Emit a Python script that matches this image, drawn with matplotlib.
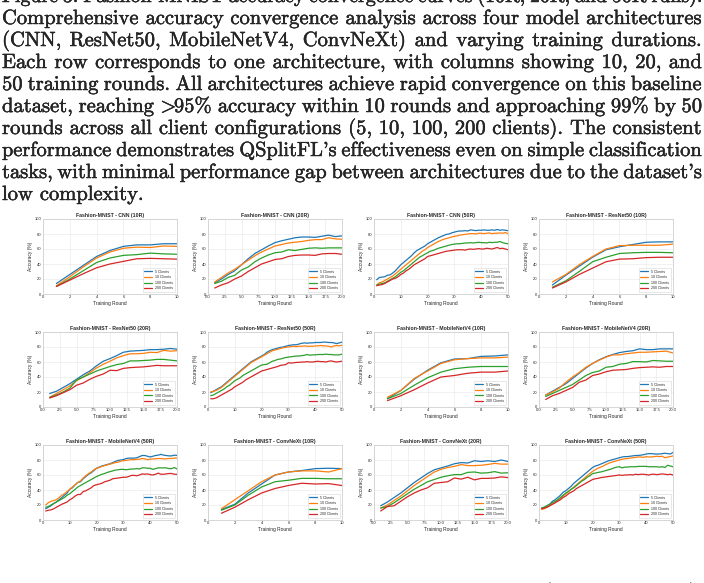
import numpy as np
import matplotlib
matplotlib.use('Agg')
from matplotlib import pyplot as plt
from matplotlib import patheffects

plt.style.use('seaborn-v0_8-whitegrid')
plt.rcParams['mathtext.fontset'] = 'cm'

clients = ['5 Clients', '10 Clients', '100 Clients', '200 Clients']
colors = ['#1f77b4', '#ff7f0e', '#2ca02c', '#d62728']

# ---- CNN ----
cnn10_5 = [14, 26, 38, 50, 58, 63.5, 65.5, 65.5, 67, 67]
cnn10_10 = [11, 23, 36, 48, 56, 61, 62.5, 62, 64, 63.5]
cnn10_100 = [10, 20, 31, 42, 48, 51.5, 52.5, 54.5, 53.5, 53]
cnn10_200 = [10, 18.5, 27, 35, 40, 43.5, 47, 47.5, 47, 46.5]

cnn20_5 = [15, 20, 26, 31, 39, 47, 54, 59, 64, 68.5, 71, 73, 75, 76, 76, 75.5, 77, 78.5, 76.5, 77.5]
cnn20_10 = [16, 22, 28, 33, 39, 45, 51, 56, 60, 64, 66, 68, 69, 70, 71.5, 72.5, 72.5, 75, 73.5, 73]
cnn20_100 = [14, 17, 22, 25, 32, 36, 43, 48, 52, 55, 56, 59, 58, 59.5, 61, 61.5, 61, 61.5, 61.5, 61.5]
cnn20_200 = [8, 12, 15, 20, 24, 30, 35, 40, 43, 46, 47, 50, 51.5, 52, 52, 51.5, 53.5, 54, 54, 53]

cnn50_5 = [19, 22, 22.5, 23, 25, 25.5, 28, 31, 35, 39,
           42, 45, 48, 51, 55, 58, 60, 62, 64, 67,
           69, 71, 73, 75, 76.5, 78, 79.5, 80, 81.5, 82.5,
           83.5, 84, 84, 84.5, 84, 85.5, 85, 84.5, 85, 85,
           85.5, 85, 85, 85.5, 85, 86, 85, 85.5, 85, 84.5]
cnn50_10 = [12, 15, 16, 18, 20, 22, 24, 27, 30, 33,
            36, 39, 42, 45, 48, 51, 54, 57, 59, 62,
            64, 66, 68, 70, 71.5, 73, 74, 75, 76, 77,
            77.5, 78.5, 79, 79.5, 80, 80.5, 80.5, 80, 81, 81,
            80.5, 81, 81.5, 80.5, 81, 81, 81.5, 81, 82, 80.5]
cnn50_100 = [12, 13, 14, 15, 17, 19, 21, 23, 26, 29,
             31, 34, 37, 40, 43, 46, 49, 51, 53, 55,
             57, 58, 59.5, 61, 62, 63, 64, 65, 66, 66.5,
             67, 67, 67.5, 68, 68, 68.5, 68, 68.5, 69, 68.5,
             68.5, 68, 69, 68.5, 69, 69, 70, 68.5, 67.5, 67]
cnn50_200 = [11, 12, 12.5, 14, 16, 18, 20, 21, 23, 26,
             28, 31, 33, 36, 39, 41, 43, 45, 47, 50,
             51, 52, 53, 54, 55, 56, 57, 57.5, 58, 58.5,
             59, 59, 59, 58.5, 59.5, 60, 59.5, 60, 60.5, 60,
             60, 61, 60.5, 60, 61, 62, 60.5, 61, 60, 59]

# ---- ResNet50 ----
rn10_5 = [12, 25, 37, 49, 59, 63, 66, 69, 69.5, 69.5]
rn10_10 = [16, 26, 39, 50, 60, 64.5, 65, 65, 65, 66.5]
rn10_100 = [9, 17.5, 30, 43, 49, 54, 55, 55.5, 55.5, 55]
rn10_200 = [8, 16, 26, 34.5, 43, 46.5, 47, 48.5, 49, 49]

rn20_5 = [18, 21, 26, 31, 37, 43, 48, 55, 61, 64.5, 68.5, 73, 74.5, 75, 75.5, 76.5, 76.5, 77, 78, 77]
rn20_10 = [13, 18, 23, 28, 35, 40, 46, 52, 57, 61, 65.5, 68.5, 71, 71, 71.5, 73, 72.5, 75.5, 74.5, 75]
rn20_100 = [13, 16, 20, 25, 36, 40, 44, 48, 51, 54, 56.5, 58, 61.5, 61.5, 62, 62.5, 63.5, 63.5, 62.5, 61.5]
rn20_200 = [12, 15, 19, 23, 29, 32, 37, 41, 44, 49, 48.5, 51.5, 52.5, 53, 53.5, 54.5, 55.5, 55, 55, 55]

rn50_5 = [19, 21, 23, 25, 27, 30, 33, 36, 39, 42,
          45, 48, 51, 54, 57, 60, 62, 64, 66, 68,
          70, 73, 75, 76.5, 77.5, 78.5, 79.5, 80, 81, 82,
          82.5, 83, 83, 84, 85, 85.5, 85, 85.5, 85.5, 86,
          86, 86, 86.5, 86.5, 86, 86, 85.5, 84.5, 85.5, 86.5]
rn50_10 = [20, 21, 22, 24, 26, 29, 32, 35, 38, 41,
           44, 47, 50, 53, 56, 59, 61, 63, 65, 67,
           69, 71, 73, 75, 76, 77, 78, 79, 79.5, 80,
           80.5, 81, 80.5, 81, 81, 81.5, 81, 81, 81, 81.5,
           81.5, 82, 81.5, 81.5, 81, 80, 81.5, 82, 81.5, 82.5]
rn50_100 = [15, 16, 18, 20, 22, 24, 27, 29, 32, 35,
            37, 39, 42, 44, 46, 48, 50, 52, 54, 56,
            56.5, 57, 59, 61, 62, 63.5, 64, 65, 66, 66.5,
            67, 67.5, 68, 68, 68.5, 69, 70, 69, 69.5, 69.5,
            70, 70, 70, 70.5, 70, 70, 69.5, 69.5, 69.5, 70.5]
rn50_200 = [11, 11, 12, 14, 16, 18, 20, 22, 24, 27,
            29, 31, 33, 36, 38, 40, 42, 44, 46, 48,
            49, 50, 51, 52, 53, 54, 55.5, 56, 56.5, 59,
            58.5, 59, 59.5, 59.5, 60, 60, 60.5, 60, 60, 60.5,
            61, 60.5, 60.5, 60, 61, 61.5, 60.5, 60, 60.5, 61]

# ---- MobileNetV4 ----
mb10_5 = [11, 22, 37, 49, 59, 64, 64.5, 67.5, 68, 69.5]
mb10_10 = [13, 22, 38, 48, 58, 63, 64.5, 65.5, 65.5, 66.5]
mb10_100 = [11, 18, 29, 39, 46.5, 51, 53, 54, 54, 54]
mb10_200 = [8.5, 15, 23, 32, 40, 42, 45, 46.5, 46.5, 48]

mb20_5 = [16, 21, 26, 31, 38, 45, 52, 58, 63, 67, 70, 72.5, 74, 75, 77.5, 76.5, 76.5, 77.5, 77.5, 77.5]
mb20_10 = [16, 20, 25, 33, 40, 46, 53, 58, 62.5, 66.5, 69.5, 69.5, 71, 72, 73, 73, 73.5, 74, 74.5, 72]
mb20_100 = [14, 18, 22, 26, 30, 36, 42, 46, 48, 53, 54, 57, 58, 60.5, 60.5, 60, 62, 61.5, 61, 61]
mb20_200 = [10, 15, 18, 22, 26, 33, 36, 42, 44, 47, 49, 49.5, 50, 51.5, 52.5, 53, 53.5, 53, 54, 54]

mb50_5 = [15, 17, 19, 22, 24, 27, 30, 33, 36, 41,
          43, 47, 50, 51, 55, 58, 61, 63, 66, 69,
          70.5, 72, 73, 74, 75, 76.5, 78, 79.5, 80, 80.5,
          82, 82.5, 82.5, 82.5, 83, 84.5, 86, 86, 85, 84,
          85, 86, 86.5, 87.5, 86.5, 86, 85.5, 85.5, 86.5, 86]
mb50_10 = [20, 23, 25, 26, 27, 30, 33, 35, 38, 41,
           44, 47, 50, 52, 56, 59, 62, 64, 67, 69,
           70, 71.5, 72.5, 73.5, 74.5, 75.5, 76.5, 77, 78.5, 79,
           79.5, 80, 80.5, 80.5, 81, 81, 82, 81.5, 80.5, 81,
           81.5, 81.5, 82, 82, 81.5, 81.5, 82, 82, 82.5, 82.5]
mb50_100 = [17, 18, 20, 22, 24, 26, 28, 30, 33, 35,
            38, 41, 44, 46, 48, 50, 52, 54, 56, 58,
            59.5, 61, 62, 63.5, 64.5, 65.5, 66.5, 67, 67.5, 67.5,
            67, 67.5, 68, 68, 68.5, 68, 69.5, 69.5, 69, 69,
            67.5, 68.5, 69.5, 69.5, 69.5, 69.5, 68.5, 68.5, 70, 68]
mb50_200 = [12, 13, 13.5, 15, 17, 19, 21, 22.5, 24, 27,
            29, 32, 34, 34, 38, 39, 41, 43, 46, 47,
            48, 49, 51, 52, 53, 55, 55.5, 56, 56.5, 57,
            57, 58, 59.5, 59.5, 59, 60, 61.5, 61, 61.5, 60.5,
            60, 61, 62.5, 61, 61, 61.5, 62, 62, 61, 61]

# ---- ConvNeXt ----
cx10_5 = [14, 21, 36, 48, 60, 64, 66, 68.5, 69, 68.5]
cx10_10 = [15, 27, 39, 51, 60, 64, 65.5, 65.5, 64, 68.5]
cx10_100 = [13, 20, 33, 44, 51, 53, 55.5, 55.5, 55, 55]
cx10_200 = [9, 17, 27, 36, 42, 46, 49, 48, 48.5, 46]

cx20_5 = [19, 24, 30, 36, 43, 50, 56, 62, 67, 69.5, 72, 75, 76.5, 76, 79, 78, 79, 78, 80, 78]
cx20_10 = [16, 20, 26, 32, 39, 46, 52, 58, 64, 67.5, 70, 71.5, 74, 72.5, 72.5, 73, 74, 75.5, 74.5, 74.5]
cx20_100 = [16, 18, 23, 29, 35, 41, 46, 51, 54, 57, 59, 60.5, 60.5, 63.5, 64, 62.5, 63, 64.5, 62.5, 63]
cx20_200 = [12, 18, 19, 25, 31, 36, 40, 43, 49, 50, 51, 56, 54.5, 57, 53.5, 55.5, 55.5, 56, 57.5, 56.5]

cx50_5 = [16, 17, 19, 21, 25, 27, 30, 33, 37, 39,
          42, 45, 49, 52, 55, 58, 61, 64, 67, 70,
          72, 73, 74.5, 76, 77.5, 79, 80, 81, 82, 83,
          84, 84.5, 84.5, 85, 85.5, 86, 86, 86.5, 87, 88,
          88.5, 88.5, 88, 88, 88, 88.5, 89, 88.5, 88, 90]
cx50_10 = [14, 15, 17, 19, 21, 23, 26, 29, 32, 35,
           38, 41, 44, 47, 50, 53, 56, 59, 62, 65,
           67, 69, 70.5, 72, 74, 75.5, 77, 78, 79, 80,
           81, 81.5, 82, 82.5, 83, 83.5, 84, 84, 83.5, 84.5,
           84, 84, 84.5, 85, 84.5, 85, 83, 84, 84.5, 85.5]
cx50_100 = [16, 17, 19, 21, 23, 25, 27, 30, 33, 36,
            38, 41, 43, 46, 49, 52, 54, 57, 59, 62,
            62.5, 63.5, 64, 65, 66, 67, 68, 69.5, 70.5, 71,
            69.5, 70.5, 70.5, 71, 71, 71, 71.5, 71.5, 71.5, 71.5,
            71, 71, 71, 71, 70.5, 71, 70, 73, 72, 71]
cx50_200 = [15, 16, 17, 19, 21, 23, 25, 27, 30, 32,
            35, 37, 39, 42, 44, 46, 48, 50, 52, 54,
            55, 55.5, 56.5, 57, 57.5, 58, 58.5, 59, 59.5, 60,
            59.5, 60, 60, 60.5, 60, 61, 60.5, 61, 61, 60.5,
            60, 61, 61, 60.5, 61, 61.5, 61, 60.5, 61, 60]

panels = [
    ('CNN', 10, [cnn10_5, cnn10_10, cnn10_100, cnn10_200]),
    ('CNN', 20, [cnn20_5, cnn20_10, cnn20_100, cnn20_200]),
    ('CNN', 50, [cnn50_5, cnn50_10, cnn50_100, cnn50_200]),
    ('ResNet50', 10, [rn10_5, rn10_10, rn10_100, rn10_200]),
    ('ResNet50', 20, [rn20_5, rn20_10, rn20_100, rn20_200]),
    ('ResNet50', 50, [rn50_5, rn50_10, rn50_100, rn50_200]),
    ('MobileNetV4', 10, [mb10_5, mb10_10, mb10_100, mb10_200]),
    ('MobileNetV4', 20, [mb20_5, mb20_10, mb20_100, mb20_200]),
    ('MobileNetV4', 50, [mb50_5, mb50_10, mb50_100, mb50_200]),
    ('ConvNeXt', 10, [cx10_5, cx10_10, cx10_100, cx10_200]),
    ('ConvNeXt', 20, [cx20_5, cx20_10, cx20_100, cx20_200]),
    ('ConvNeXt', 50, [cx50_5, cx50_10, cx50_100, cx50_200]),
]
xstep = {10: 2, 20: 2.5, 50: 10}

caption_lines = [
    "Figure 3: Fashion-MNIST accuracy convergence curves (10R, 20R, and 50R runs).",
    "Comprehensive accuracy convergence analysis across four model architectures",
    "(CNN, ResNet50, MobileNetV4, ConvNeXt) and varying training durations.",
    "Each row corresponds to one architecture, with columns showing 10, 20, and",
    "50 training rounds. All architectures achieve rapid convergence on this baseline",
    r"dataset, reaching $\!>\!\!$95% accuracy within 10 rounds and approaching 99% by 50",
    "rounds across all client configurations (5, 10, 100, 200 clients). The consistent",
    "performance demonstrates QSplitFL's effectiveness even on simple classification",
    "tasks, with minimal performance gap between architectures due to the dataset's",
    "low complexity.",
]
next_line = "Figure 4: CIFAR-10 accuracy convergence across all architectures (10, 20, 50 rounds)."

W, H = 704, 583
fig = plt.figure(figsize=(W / 100, H / 100), dpi=100)
rend = fig.canvas.get_renderer()
FS = 14.8
ink = [patheffects.withStroke(linewidth=0.3, foreground='black')]


def put_line(s, base_px, justify=True):
    words = s.split(' ')
    y = 1 - base_px / H
    fs = FS
    ts = [fig.text(0, y, w, fontsize=fs, family='cmr10', va='baseline',
                   path_effects=ink) for w in words]
    ws = [t.get_window_extent(renderer=rend).width for t in ts]
    space = 0.333 * fs * 100 / 72
    if justify and len(words) > 1:
        need = sum(ws) + (len(words) - 1) * 0.7 * space
        if need > 700:
            fs = fs * 700 / need
            for t in ts:
                t.set_fontsize(fs)
            ws = [t.get_window_extent(renderer=rend).width for t in ts]
        gap = (700 - sum(ws)) / (len(words) - 1)
    else:
        gap = space
    x = 2
    for t, w in zip(ts, ws):
        t.set_x(x / W)
        x += w + gap


for i, s in enumerate(caption_lines):
    put_line(s, 2 + 22 * i, justify=(i < len(caption_lines) - 1))
put_line(next_line, 597)

lefts = [43, 208, 374, 539]
tops = [219, 332, 445]
aw, ah = 134, 75

for i, (arch, n, series) in enumerate(panels):
    r, c = divmod(i, 4)
    ax = fig.add_axes([lefts[c] / W, 1 - (tops[r] + ah) / H, aw / W, ah / H])
    for s, lab, col in zip(series, clients, colors):
        ax.plot(np.arange(1, len(s) + 1), s, color=col, lw=0.9, label=lab)
    ax.set_xlim(0, n)
    ax.set_ylim(0, 100)
    ax.set_xticks(np.arange(0, n + 0.01, xstep[n]))
    ax.set_yticks([0, 20, 40, 60, 80, 100])
    ax.set_title(f'Fashion-MNIST - {arch} ({n}R)', fontsize=3.7, fontweight='bold', pad=1.2)
    ax.set_xlabel('Training Round', fontsize=3.5, labelpad=1.2)
    ax.set_ylabel('Accuracy (%)', fontsize=3.5, labelpad=1.5)
    ax.tick_params(labelsize=3.0, pad=1, length=0)
    ax.grid(True, color='#ebebeb', lw=0.5)
    for sp in ax.spines.values():
        sp.set_color('#d0d0d0')
        sp.set_linewidth(0.6)
    leg = ax.legend(loc='lower right', fontsize=2.6, frameon=True, borderpad=0.5,
                    handlelength=2.2, labelspacing=0.45)
    leg.get_frame().set_linewidth(0.4)
    leg.get_frame().set_edgecolor('#cccccc')

fig.savefig('out.png', dpi=100)
